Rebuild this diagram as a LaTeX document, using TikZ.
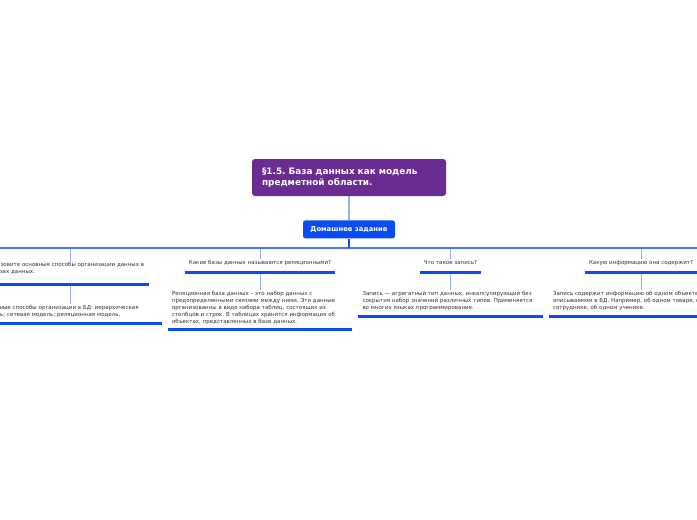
\documentclass[tikz,border=0pt]{standalone}
\usepackage{fontspec}
\setmainfont{DejaVu Sans}
\usetikzlibrary{positioning}
\definecolor{titlepurple}{HTML}{6A2C91}
\definecolor{hwblue}{HTML}{0B4CF2}
\definecolor{linkblue}{HTML}{93AEF5}
\definecolor{busblue}{HTML}{4A78F2}
\definecolor{textgray}{HTML}{333333}
\frenchspacing

\begin{document}
\begin{tikzpicture}[x=1pt, y=-1pt,
  titlebox/.style={fill=titlepurple, text=white, rounded corners=3pt, font=\bfseries\fontsize{8.9}{11.5}\selectfont, text width=174pt, inner xsep=10pt, minimum height=37pt, align=left},
  hwbox/.style={fill=hwblue, text=white, rounded corners=2.5pt, font=\bfseries\fontsize{6.8}{8}\selectfont, minimum width=92pt, minimum height=18pt},
  topic/.style={font=\fontsize{5.5}{6.8}\selectfont, text=textgray, inner xsep=4pt, inner ysep=1pt, anchor=north, execute at begin node=\strut, execute at end node=\strut},
  answer/.style={topic, text width=176pt, align=left},
  link/.style={draw=linkblue, line width=1pt},
  uline/.style={draw=hwblue, line width=3pt},
  busline/.style={draw=busblue, line width=1.5pt},
]
  \useasboundingbox (0,0) rectangle (697,520);
  \fill[white] (0,0) rectangle (697,520);
  \clip (0,0) rectangle (697,520);

  % Root and homework
  \node[titlebox] (title) at (349,177.5) {§1.5. База данных как модель\\предметной области.};
  \node[hwbox, below=24pt of title] (hw) {Домашнее задание};
  \draw[draw=linkblue, line width=1.5pt] (title.south) -- (hw.north);

  \coordinate (bus) at (0,248);

  % Questions
  \node[topic, text width=154pt, inner xsep=2pt, align=left] (q1) at (70,260.5) {Назовите основные способы организации данных в\\базах данных.};
  \node[topic] (q2) at (260,259) {Какие базы данных называются реляционными?};
  \node[topic] (q3) at (450.5,259) {Что такое запись?};
  \node[topic] (q4) at (641,259) {Какую информацию она содержит?};

  % Answers
  \node[answer] (a1) at (70,304) {Основные способы организации в БД: иерархическая\\модель; сетевая модель; реляционная модель.};
  \node[answer] (a2) at (260,290) {Реляционная база данных -- это набор данных с\\предопределенными связями между ними. Эти данные\\организованны в виде набора таблиц, состоящих из\\столбцов и строк. В таблицах хранится информация об\\объектах, представленных в базе данных.};
  \node[answer] (a3) at (450.5,290) {Запись --- агрегатный тип данных, инкапсулирующий без\\сокрытия набор значений различных типов. Применяется\\во многих языках программирования.};
  \node[answer] (a4) at (641,290) {Запись содержит информацию об одном объекте,\\описываемом в БД. Например, об одном товаре, об одном\\сотруднике, об одном ученике.};

  % Branch ticks
  \foreach \q in {q1,q2,q3,q4}
    \draw[link] (\q.north |- bus) -- (\q.north);
  \draw[busline] (-5,248) -- (702,248);
  \draw[draw=hwblue, line width=2pt] (hw.south) -- (hw.south |- bus);

  % Question to answer
  \draw[link] ([yshift=-8pt]q1.south) -- (a1.north);
  \foreach \n in {2,3,4}
    \draw[link] ([yshift=-4pt]q\n.south) -- (a\n.north);

  % Underlines
  \draw[uline] ([yshift=-8pt]q1.south west) -- ([yshift=-8pt]q1.south east);
  \foreach \n in {2,3,4}
    \draw[uline] ([yshift=-4pt]q\n.south west) -- ([yshift=-4pt]q\n.south east);
  \foreach \n in {1,2,3,4}
    \draw[uline] ([yshift=-3.5pt]a\n.south west) -- ([yshift=-3.5pt]a\n.south east);
\end{tikzpicture}
\end{document}
